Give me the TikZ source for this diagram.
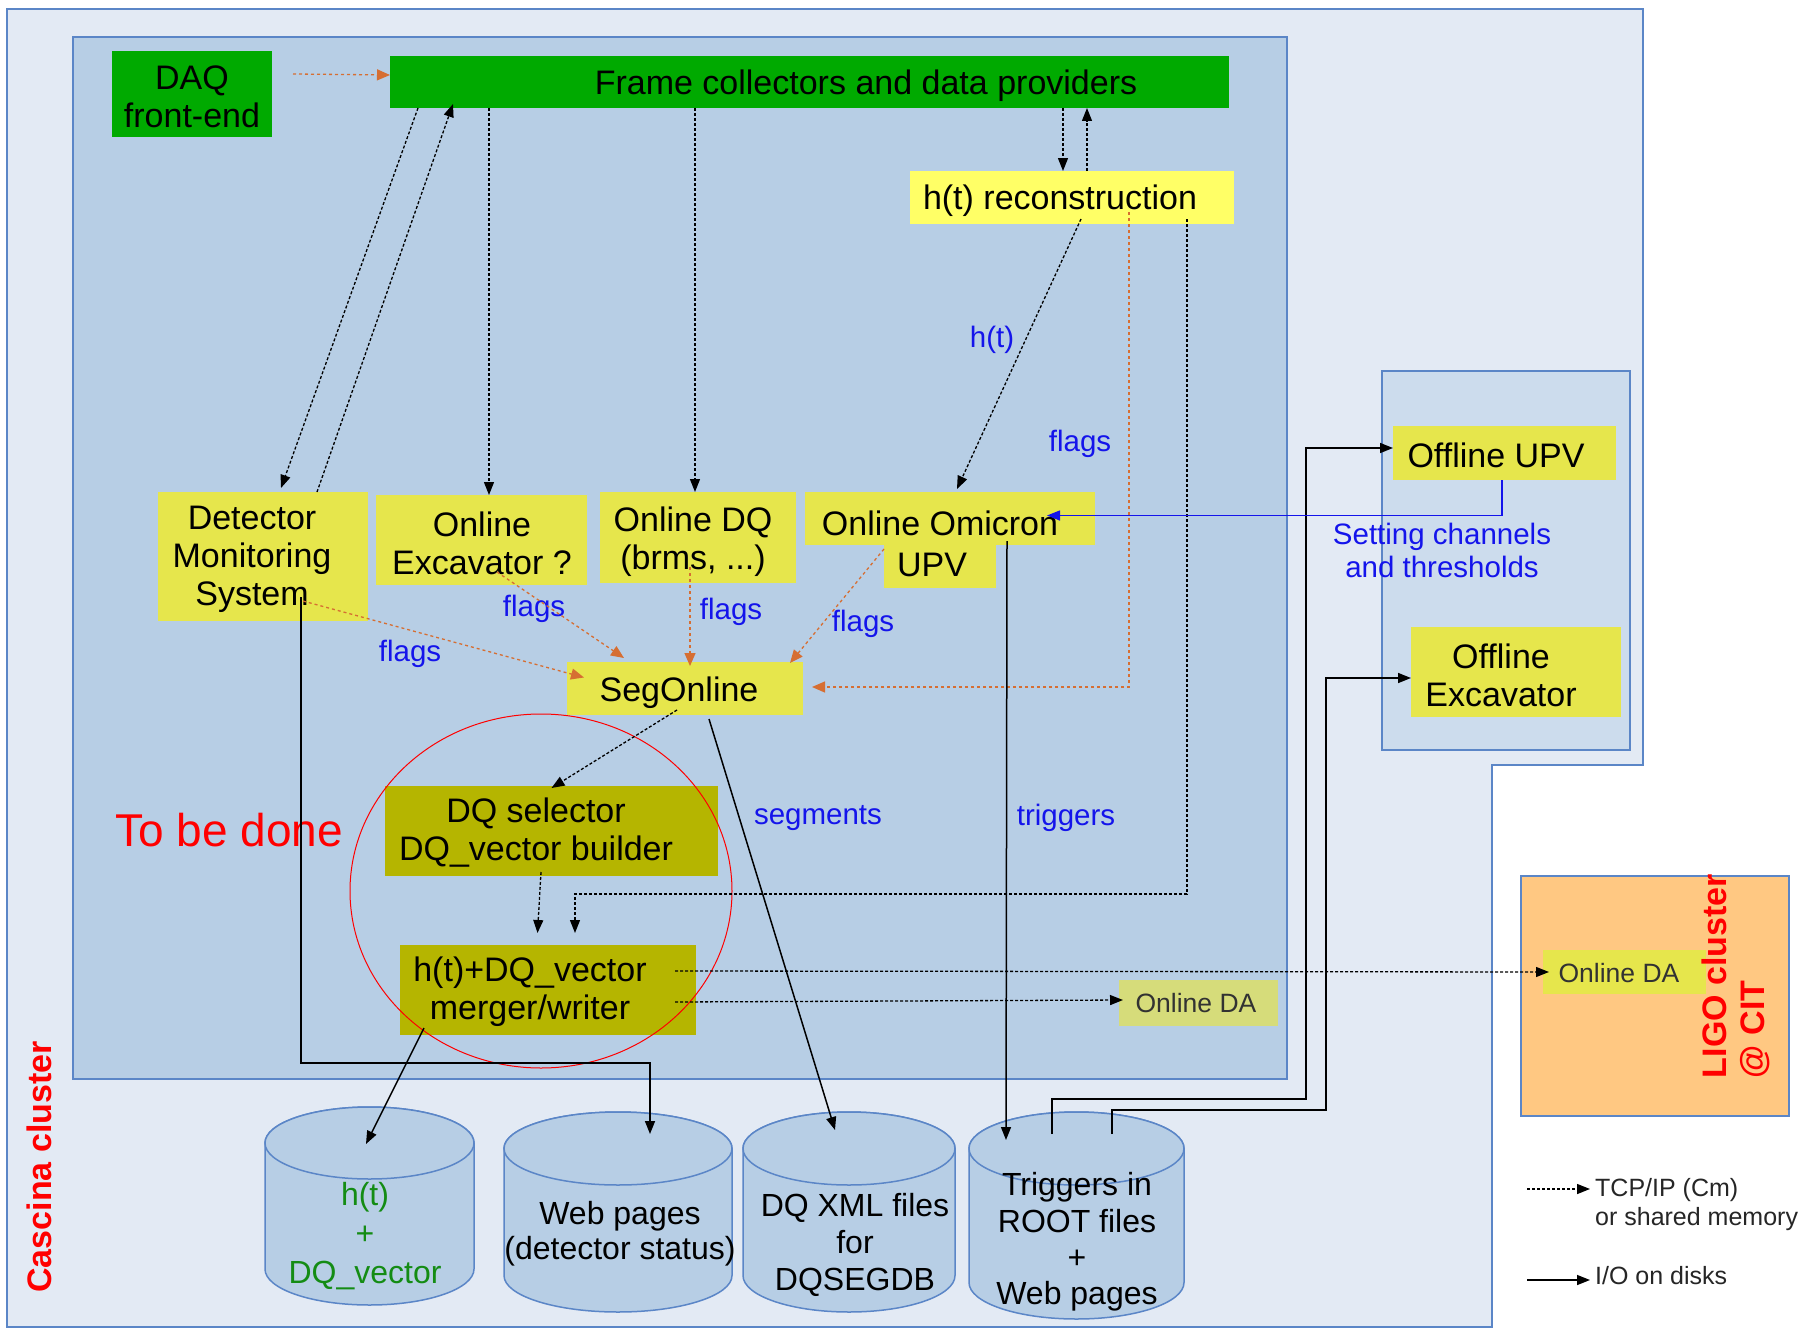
\documentclass[tikz,border=0pt]{standalone}
\usepackage{fontspec}
\setmainfont{Liberation Sans}
\usetikzlibrary{arrows.meta,calc}
\definecolor{outerfill}{RGB}{227,234,244}
\definecolor{innerfill}{RGB}{183,206,229}
\definecolor{offfill}{RGB}{204,220,237}
\definecolor{regborder}{RGB}{91,134,199}
\definecolor{ybox}{RGB}{230,230,76}
\definecolor{ybright}{RGB}{255,255,102}
\definecolor{olivebox}{RGB}{181,181,0}
\definecolor{dgreen}{RGB}{0,170,0}
\definecolor{daloc}{RGB}{214,220,122}
\definecolor{ligofill}{RGB}{255,200,130}
\definecolor{orng}{RGB}{214,110,50}
\definecolor{lblue}{RGB}{20,20,235}
\definecolor{tgreen}{RGB}{20,140,20}
\definecolor{txgray}{RGB}{50,50,50}
\newcommand\drumshape[5]{%
  \filldraw[cylst] ({#1-#4},{#2+#5}) -- ({#1-#4},{#3-#5})
    arc[start angle=180,end angle=360,x radius=#4pt,y radius=#5pt]
    -- ({#1+#4},{#2+#5})
    arc[start angle=0,end angle=180,x radius=#4pt,y radius=#5pt] -- cycle;
  \draw[cylst] (#1,{#2+#5}) ellipse [x radius=#4pt, y radius=#5pt];
}
\begin{document}
\begin{tikzpicture}[x=1pt,y=-1pt,
  bx/.style={inner sep=0pt, outer sep=0pt, draw=none},
  tx/.style={font=\fontsize{34}{38}\selectfont, align=center, inner sep=0pt},
  cyltx/.style={font=\fontsize{32}{37}\selectfont, align=center, inner sep=0pt},
  lbl/.style={font=\fontsize{29.5}{33}\selectfont, text=lblue, align=center, inner sep=0pt},
  datx/.style={font=\fontsize{26.5}{30}\selectfont, text=txgray, inner sep=0pt},
  legtx/.style={font=\fontsize{25}{29}\selectfont, text=black!85, inner sep=0pt},
  region/.style={draw=regborder, line width=1.5pt},
  cylst/.style={draw=regborder, fill=innerfill, line width=1.5pt},
  tcp/.style={draw=black, line width=1.3pt, dash pattern=on 3pt off 2pt, -{Triangle[length=13pt,width=10pt]}},
  flag/.style={draw=orng, line width=1.3pt, dash pattern=on 3pt off 3pt, -{Triangle[length=13pt,width=11pt]}},
  io/.style={draw=black, line width=1.5pt, -{Triangle[length=13pt,width=10pt]}},
  ctrl/.style={draw=lblue, line width=1.5pt, -{Triangle[length=13pt,width=10pt]}}
]
\useasboundingbox (0,0) rectangle (1812,1335);
\fill[white] (0,0) rectangle (1812,1335);

% regions
\filldraw[region, fill=outerfill] (7,9) -- (1643,9) -- (1643,765) -- (1492,765) -- (1492,1327) -- (7,1327) -- cycle;
\filldraw[region, fill=innerfill] (73,37) rectangle (1287,1079);
\filldraw[region, fill=offfill] (1382,371) rectangle (1630,750);
\filldraw[region, fill=ligofill] (1521,876) rectangle (1789,1116);

% boxes
\node[bx, fill=dgreen, minimum width=160pt, minimum height=86pt] (DAQ) at (192,94) {};
\node[bx, fill=dgreen, minimum width=839pt, minimum height=52pt] (Frame) at (809.5,82) {};
\node[bx, fill=ybright, minimum width=324pt, minimum height=53pt] (htreco) at (1072,197.5) {};
\node[bx, fill=ybox, minimum width=210pt, minimum height=129pt] (DMS) at (263,556.5) {};
\node[bx, fill=ybox, minimum width=211pt, minimum height=90pt] (OnExc) at (481.5,540) {};
\node[bx, fill=ybox, minimum width=196pt, minimum height=91pt] (OnDQ) at (698,537.5) {};
\node[bx, fill=ybox, minimum width=290pt, minimum height=53pt] (omicron) at (950,518.5) {};
\node[bx, fill=ybox, minimum width=112pt, minimum height=44pt] (omicronB) at (940,566) {};
\node[bx, fill=ybox, minimum width=236pt, minimum height=53pt] (SegOn) at (685,688.5) {};
\node[bx, fill=olivebox, minimum width=333pt, minimum height=90pt] (DQsel) at (551.5,831) {};
\node[bx, fill=olivebox, minimum width=296pt, minimum height=90pt] (merger) at (548,990) {};
\node[bx, fill=daloc, minimum width=159pt, minimum height=46pt] (locDA) at (1198.5,1003) {};
\node[bx, fill=ybox, minimum width=163pt, minimum height=44pt] (ligoDA) at (1624.5,972) {};
\node[bx, fill=ybox, minimum width=223pt, minimum height=54pt] (OffUPV) at (1504.5,453) {};
\node[bx, fill=ybox, minimum width=210pt, minimum height=90pt] (OffExc) at (1516,672) {};

% cylinders
\drumshape{369.5}{1107}{1305}{104.5}{36}
\drumshape{618}{1112}{1312}{114}{36.5}
\drumshape{849}{1112}{1312}{106}{36.5}
\drumshape{1076.5}{1112}{1319}{107.5}{36.5}
\coordinate (cAin) at (366,1144);
\coordinate (cBin) at (650,1134);
\coordinate (cCin) at (835,1130);
\coordinate (cDin) at (1006,1140);
\coordinate (cDout1) at (1052,1134);
\coordinate (cDout2) at (1112,1134);

% box texts
\node[tx] (tDAQ) at (192,97) {DAQ\\front-end};
\node[tx] (tFrame) at (866,86) {Frame collectors and data providers};
\node[tx] (thtreco) at (1060,201) {h(t) reconstruction};
\node[tx] (tDMS) at (252,559.5) {Detector\\Monitoring\\System};
\node[tx] (tOnExc) at (482,543) {Online\\Excavator ?};
\node[tx] (tOnDQ) at (693,542) {Online DQ\\(brms, ...)};
\node[tx] (tomi) at (940,523) {Online Omicron};
\node[tx] (tomiB) at (932,565) {UPV};
\node[tx] (tSegOn) at (679,692.5) {SegOnline};
\node[tx] (tDQsel) at (536,833) {DQ selector\\DQ\_vector builder};
\node[tx] (tmerger) at (530,992) {h(t)+DQ\_vector\\merger/writer};
\node[datx] (tlocDA) at (1196,1003) {Online DA};
\node[datx] (tligoDA) at (1619,973) {Online DA};
\node[tx] (tOffUPV) at (1496,455) {Offline UPV};
\node[tx] (tOffExc) at (1501,675) {Offline\\Excavator};

% cylinder texts
\node[cyltx, text=tgreen, font=\fontsize{32}{39}\selectfont] (tcA) at (365,1236) {h(t)\\+\\DQ\_vector};
\node[cyltx, font=\fontsize{32}{35}\selectfont] (tcB) at (620,1233.5) {Web pages\\(detector status)};
\node[cyltx] (tcC) at (855,1245) {DQ XML files\\for\\DQSEGDB};
\node[cyltx, font=\fontsize{32}{36.3}\selectfont] (tcD) at (1077,1242) {Triggers in\\ROOT files\\+\\Web pages};

% titles
\node[inner sep=0pt, text=red, font=\fontsize{46}{50}\selectfont] (tbd) at (229,830) {To be done};
\node[inner sep=0pt, text=red, font=\fontsize{34}{38}\selectfont\bfseries, rotate=90] (cascina) at (39,1167) {Cascina cluster};
\node[inner sep=0pt, text=red, font=\fontsize{34}{38}\selectfont\bfseries, rotate=90, align=left] (ligo) at (1736,976) {LIGO cluster\\@ CIT};

% red circle
\draw[red, line width=1pt] (541,891) ellipse [x radius=191pt, y radius=177pt];

% blue labels
\node[lbl] (lht) at (992,340) {h(t)};
\node[lbl] (lf1) at (1080,444) {flags};
\node[lbl] (lf2) at (410,654) {flags};
\node[lbl] (lf3) at (534,609) {flags};
\node[lbl] (lf4) at (731,612) {flags};
\node[lbl] (lf5) at (863,624) {flags};
\node[lbl] (lseg) at (818,818) {segments};
\node[lbl] (ltrig) at (1066,818) {triggers};
\node[lbl] (lset) at (1442,550) {Setting channels\\and thresholds};

% connectors: TCP / shared memory
\draw[flag] ([xshift=21pt,yshift=20pt]DAQ.east) -- ([yshift=7pt]Frame.west);
\draw[tcp] ([xshift=28pt]Frame.south west) -- ([xshift=123pt,yshift=4pt]DMS.north west);
\draw[tcp] ([xshift=159pt]DMS.north west) -- ([xshift=63pt,yshift=4pt]Frame.south west);
\draw[tcp] ([xshift=99pt]Frame.south west) -- ([xshift=113pt]OnExc.north west);
\draw[tcp] ([xshift=305pt]Frame.south west) -- ([xshift=95pt]OnDQ.north west);
\draw[tcp] ([xshift=673pt]Frame.south west) -- ([xshift=153pt]htreco.north west);
\draw[tcp] ([xshift=177pt]htreco.north west) -- ([xshift=697pt]Frame.south west);
\draw[tcp] ([xshift=171pt,yshift=5pt]htreco.south west) -- ([xshift=152pt,yshift=3pt]omicron.north west);
\coordinate (hline) at (0,894);
\draw[tcp] ([xshift=277pt,yshift=5pt]htreco.south west) coordinate (t1) -- (t1 |- hline) -| ([xshift=27pt,yshift=12pt]merger.north);
\draw[tcp] ([xshift=-10.5pt,yshift=4pt]DQsel.south) -- ([xshift=-10.5pt,yshift=12pt]merger.north);
\draw[tcp] ([xshift=-8pt,yshift=5pt]SegOn.south) -- ([yshift=-2pt]DQsel.north);
\draw[tcp] ([xshift=-21pt,yshift=-12pt]merger.east) -- ([xshift=4pt,yshift=3pt]locDA.west);
\draw[tcp] ([xshift=-21pt,yshift=19pt]merger.east) -- ([xshift=6pt]ligoDA.west);

% flags
\draw[flag] ([xshift=-65pt,yshift=20pt]DMS.south east) -- ([xshift=17pt,yshift=11pt]SegOn.west);
\draw[flag] ([xshift=15.5pt,yshift=13pt]OnExc.south) -- ([xshift=57pt,yshift=4pt]SegOn.north west);
\draw[flag] ([xshift=-8pt,yshift=16pt]OnDQ.south) -- ([xshift=5pt,yshift=-4pt]SegOn.north);
\draw[flag] ([yshift=-5pt]omicronB.north west) -- ([xshift=-13pt,yshift=-1pt]SegOn.north east);
\draw[flag] ([xshift=219pt,yshift=12pt]htreco.south west) |- ([xshift=9pt,yshift=1.5pt]SegOn.east);

% I/O on disks
\draw[io] ([xshift=24pt,yshift=7pt]merger.south west) -- (cAin);
\coordinate (webH) at (0,1063);
\draw[io] ([xshift=-67pt,yshift=24pt]DMS.south east) coordinate (d1) -- (d1 |- webH) -| (cBin);
\draw[io] ([xshift=24pt,yshift=-4pt]SegOn.south) -- (cCin);
\draw[io] ([xshift=202pt,yshift=4pt]omicron.south west) -- (cDin);
\coordinate (trA) at (1306,1099);
\coordinate (trB) at (1326,1110);
\draw[io] (cDout1) |- (trA) |- ([yshift=5pt]OffUPV.west);
\draw[io] (cDout2) |- (trB) |- ([yshift=-6pt]OffExc.west);

% control (blue)
\draw[ctrl] ([xshift=-2.5pt]OffUPV.south) |- ([xshift=-48pt,yshift=3pt]omicron.east);

% legend
\coordinate (lgA1) at (1527,1189);
\coordinate (lgA2) at (1590,1189);
\coordinate (lgB1) at (1527,1280);
\coordinate (lgB2) at (1590,1280);
\draw[tcp] (lgA1) -- (lgA2);
\draw[io] (lgB1) -- (lgB2);
\node[legtx, anchor=west] (lgT1) at (1595,1190) {TCP/IP (Cm)};
\node[legtx, anchor=west] (lgT2) at (1595,1219) {or shared memory};
\node[legtx, anchor=west] (lgT3) at (1595,1276) {I/O on disks};
\end{tikzpicture}
\end{document}
